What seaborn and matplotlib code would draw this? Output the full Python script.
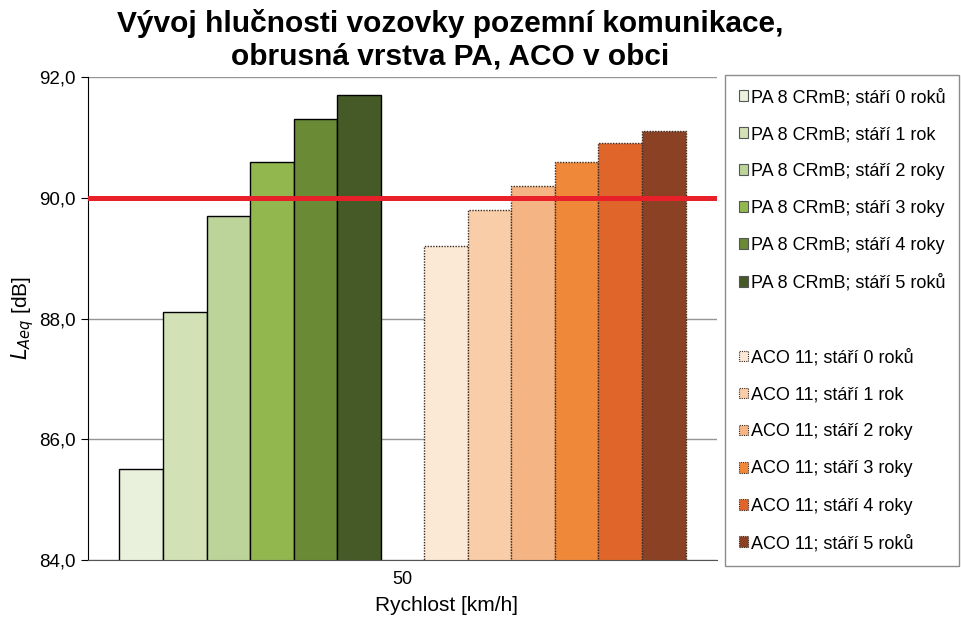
import matplotlib

matplotlib.use("Agg")
import matplotlib.pyplot as plt
import pandas as pd
import seaborn as sns
from matplotlib.patches import Patch

# data
SPEED = ["50"]
PA_LABELS = [
    "PA 8 CRmB; stáří 0 roků",
    "PA 8 CRmB; stáří 1 rok",
    "PA 8 CRmB; stáří 2 roky",
    "PA 8 CRmB; stáří 3 roky",
    "PA 8 CRmB; stáří 4 roky",
    "PA 8 CRmB; stáří 5 roků",
]
ACO_LABELS = [
    "ACO 11; stáří 0 roků",
    "ACO 11; stáří 1 rok",
    "ACO 11; stáří 2 roky",
    "ACO 11; stáří 3 roky",
    "ACO 11; stáří 4 roky",
    "ACO 11; stáří 5 roků",
]
PA_VALUES = [85.5, 88.1, 89.7, 90.6, 91.3, 91.7]
ACO_VALUES = [89.2, 89.8, 90.2, 90.6, 90.9, 91.1]
LIMIT = 90.0
Y_TICKS = [84, 86, 88, 90, 92]
Y_TICK_LABELS = ["84,0", "86,0", "88,0", "90,0", "92,0"]

PA_COLORS = ["#e9f0dc", "#d2e2b6", "#bcd499", "#93b74f", "#6b8a36", "#465a28"]
ACO_COLORS = ["#fbe9d6", "#f9cda7", "#f4b483", "#f0883a", "#e0652a", "#8b4224"]
SPACER = " "

rows = []
for lab, val in zip(PA_LABELS + ACO_LABELS, PA_VALUES + ACO_VALUES):
    rows.append({"speed": SPEED[0], "series": lab, "laeq": val})
df = pd.DataFrame(rows)

hue_order = PA_LABELS + [SPACER] + ACO_LABELS
palette = dict(zip(PA_LABELS + ACO_LABELS, PA_COLORS + ACO_COLORS))
palette[SPACER] = "white"

sns.set_style("white")
plt.rcParams["font.family"] = ["Liberation Sans", "DejaVu Sans"]
plt.rcParams.update({"text.color": "black", "axes.labelcolor": "black",
                     "xtick.color": "black", "ytick.color": "black"})

fig = plt.figure(figsize=(9.62, 6.21), dpi=100)
ax = fig.add_axes([88 / 962, 1 - 560 / 621, (717 - 88) / 962, (560 - 77) / 621])

sns.barplot(
    data=df, x="speed", y="laeq", hue="series", hue_order=hue_order,
    palette=palette, width=0.9, ax=ax, legend=False, saturation=1,
    edgecolor="black", linewidth=1.0, err_kws={"linewidth": 0},
)

# ACO series drawn with dotted outline
for i, p in enumerate(ax.patches):
    if i >= len(PA_LABELS):
        p.set_linestyle((0, (1, 1)))
        p.set_edgecolor("#3a2a20")

ax.axhline(LIMIT, color="#e8202a", linewidth=3.6, zorder=5)

ax.set_ylim(84, 92)
ax.set_yticks(Y_TICKS)
ax.set_yticklabels(Y_TICK_LABELS, fontsize=13.5)
ax.set_xticks([0])
ax.set_xticklabels(SPEED, fontsize=13)
ax.tick_params(axis="y", length=5, color="black", direction="out", left=True, pad=4)
ax.tick_params(axis="x", length=0, pad=8)
ax.grid(axis="y", color="#959595", linewidth=1.0)
ax.set_axisbelow(True)
for side in ["top", "right"]:
    ax.spines[side].set_visible(False)
ax.spines["left"].set_color("black")
ax.spines["bottom"].set_color("#555555")
ax.set_xlabel("Rychlost [km/h]", fontsize=15)
ax.xaxis.set_label_coords((447 - 88) / (717 - 88), -0.075)
ax.set_ylabel(r"$L_{Aeq}$ [dB]", fontsize=15, labelpad=2)

fig.text(450 / 962, 1 - 9 / 621,
         "Vývoj hlučnosti vozovky pozemní komunikace,\nobrusná vrstva PA, ACO v obci",
         ha="center", va="top", fontsize=21.5, fontweight="bold", linespacing=1.22)

handles = [Patch(facecolor=c, edgecolor="#555555", linewidth=0.8) for c in PA_COLORS]
handles.append(Patch(facecolor="none", edgecolor="none"))
handles += [Patch(facecolor=c, edgecolor="#3a2a20", linewidth=0.8, linestyle=(0, (1, 1)))
            for c in ACO_COLORS]
labels = PA_LABELS + [""] + ACO_LABELS
leg = fig.legend(
    handles, labels, loc="upper left", bbox_to_anchor=(725 / 962, 1 - 75 / 621),
    fontsize=13, frameon=True, fancybox=False, framealpha=1, edgecolor="#8c8c8c",
    handlelength=0.55, handleheight=0.55, handletextpad=0.15, labelspacing=1.11,
    borderpad=0.75, borderaxespad=0,
)
leg.get_frame().set_linewidth(1.0)

fig.savefig("out.png", dpi=100)
